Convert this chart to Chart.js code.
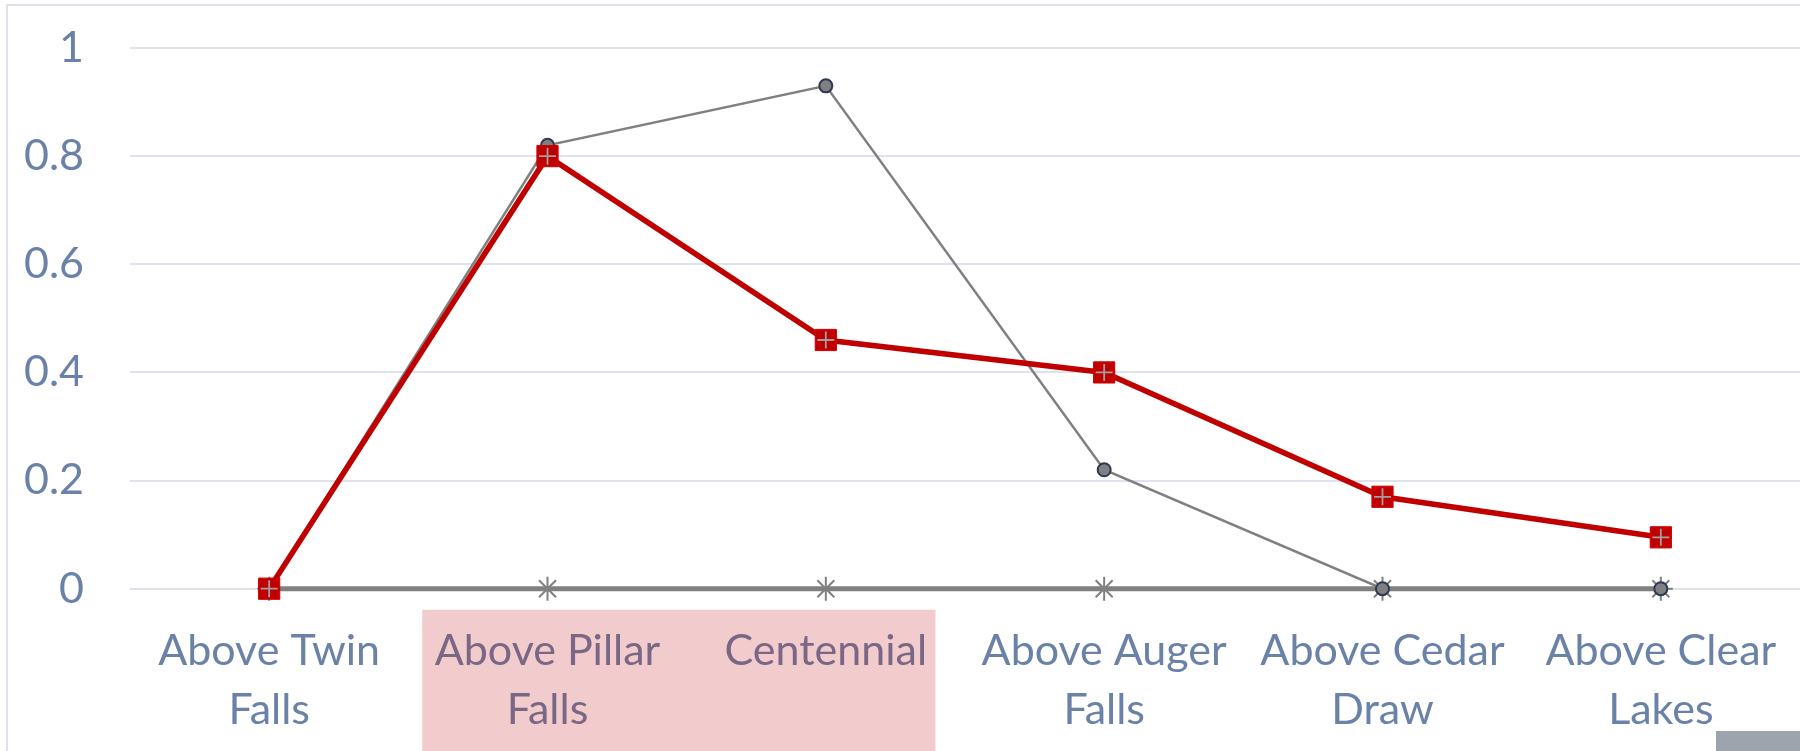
<!DOCTYPE html>
<html><head><meta charset="utf-8">
<script src="https://cdn.jsdelivr.net/npm/chart.js@4.4.1/dist/chart.umd.min.js"></script>
<style>html,body{margin:0;padding:0;background:#fff;overflow:hidden}canvas{display:block}</style>
</head><body>
<canvas id="c" width="1800" height="751"></canvas>
<script>
const categories = [["Above Twin","Falls"],["Above Pillar","Falls"],["Centennial"],["Above Auger","Falls"],["Above Cedar","Draw"],["Above Clear","Lakes"]];
const redSeries = [0, 0.80, 0.46, 0.40, 0.17, 0.095];
const circleSeries = [0, 0.82, 0.93, 0.22, 0, 0];
const starSeries = [0, 0, 0, 0, 0, 0];
const yTickValues = [0, 0.2, 0.4, 0.6, 0.8, 1];
const yTickLabels = ["0", "0.2", "0.4", "0.6", "0.8", "1"];
const highlightedCategories = [1, 2];

const FONT = 'Lato';
const TEXT = '#6a81a8';
const GRID = '#dde2ec';

const deco = {
  id: 'deco',
  beforeDraw(chart) {
    const ctx = chart.ctx;
    ctx.save();
    ctx.fillStyle = '#fff';
    ctx.fillRect(0, 0, chart.width, chart.height);
    ctx.strokeStyle = GRID;
    ctx.lineWidth = 2;
    ctx.beginPath();
    ctx.moveTo(7, chart.height);
    ctx.lineTo(7, 5);
    ctx.lineTo(chart.width, 5);
    ctx.stroke();
    ctx.restore();
  },
  afterDraw(chart) {
    const ctx = chart.ctx;
    const x = chart.scales.x;
    const step = x.getPixelForValue(1) - x.getPixelForValue(0);
    const left = x.getPixelForValue(highlightedCategories[0]) - 0.45 * step;
    const right = x.getPixelForValue(highlightedCategories[1]) + 0.394 * step;
    const top = chart.chartArea.bottom + 21;
    ctx.save();
    ctx.fillStyle = 'rgba(192,0,0,0.2)';
    ctx.fillRect(left, top, right - left, chart.height - top);
    ctx.fillStyle = '#9ea4ae';
    ctx.fillRect(chart.width - 84, chart.height - 20, 84, 20);
    ctx.restore();
  }
};

new Chart(document.getElementById('c'), {
  type: 'line',
  data: {
    labels: categories,
    datasets: [
      {
        data: starSeries, order: 4,
        borderColor: '#808080', borderWidth: 5,
        pointStyle: 'star', pointRadius: 12, pointBorderColor: '#808080', pointBorderWidth: 2,
        pointBackgroundColor: '#808080', tension: 0
      },
      {
        data: circleSeries, order: 3,
        borderColor: '#808080', borderWidth: 2.5,
        pointStyle: 'circle', pointRadius: 6.5, pointBorderColor: '#2b3a55', pointBorderWidth: 2,
        pointBackgroundColor: '#808080', tension: 0
      },
      {
        data: redSeries, order: 2,
        borderColor: '#c00000', borderWidth: 5.5,
        pointStyle: 'rect', pointRadius: 15, pointBorderColor: '#d00000', pointBorderWidth: 1,
        pointBackgroundColor: '#c00000', tension: 0
      },
      {
        data: redSeries, order: 1, showLine: false,
        pointStyle: 'cross', pointRadius: 8.5, pointBorderColor: '#a0a0a0', pointBorderWidth: 1.8,
        pointBackgroundColor: 'transparent'
      }
    ]
  },
  options: {
    responsive: false,
    animation: false,
    clip: false,
    events: [],
    layout: { autoPadding: false, padding: { top: 48, left: 0, right: 0, bottom: 0 } },
    plugins: { legend: { display: false }, tooltip: { enabled: false } },
    scales: {
      x: {
        type: 'category',
        offset: true,
        grid: { display: false, drawTicks: false },
        border: { display: false },
        ticks: {
          color: TEXT, font: { family: FONT, size: 43, lineHeight: 1.37 },
          padding: 33, maxRotation: 0, autoSkip: false
        },
        afterFit(s) { s.height = 162.3; s.paddingLeft = 0; s.paddingRight = 0; }
      },
      y: {
        min: 0, max: 1,
        afterBuildTicks(s) { s.ticks = yTickValues.map(v => ({ value: v })); },
        grid: { color: GRID, lineWidth: 2, drawTicks: false },
        border: { display: false },
        ticks: {
          color: TEXT, font: { family: FONT, size: 43 }, padding: 46,
          callback: (v, i) => yTickLabels[i]
        },
        afterFit(s) { s.width = 130; s.paddingTop = 0; s.paddingBottom = 0; }
      }
    }
  },
  plugins: [deco]
});
</script>
</body></html>
